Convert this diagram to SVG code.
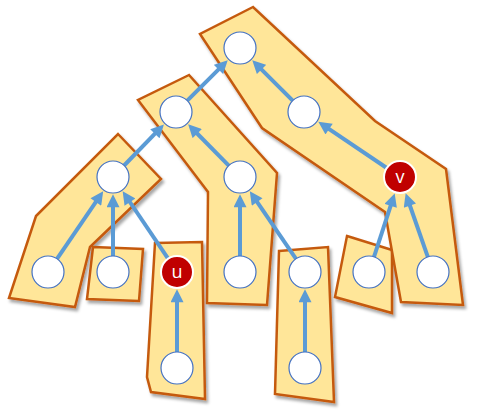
<svg xmlns="http://www.w3.org/2000/svg" width="481" height="417" viewBox="0 0 481 417">
<style>
.path{fill:#FFE699;stroke:#C55A11;stroke-width:2.5;stroke-linejoin:miter;filter:url(#sh)}
.n{fill:#FFFFFF;stroke:#4472C4;stroke-width:1.2}
.r{fill:#C00000;stroke:#FFFFFF;stroke-width:2}
.e{stroke:#5B9BD5;stroke-width:4;fill:none;marker-end:url(#ah)}
.t{fill:#FFFFFF;font-family:"Open Sans","Liberation Sans",Arial,sans-serif;font-size:18px;text-anchor:middle}
</style>
<defs>
<filter id="sh" x="-20%" y="-20%" width="140%" height="140%">
<feDropShadow dx="2" dy="3" stdDeviation="1.5" flood-color="#000000" flood-opacity="0.35"/>
</filter>
<marker id="ah" viewBox="0 0 12 12" markerUnits="userSpaceOnUse" markerWidth="14" markerHeight="13" refX="4" refY="6" orient="auto">
<path d="M0,0 L12,6 L0,12 z" fill="#5B9BD5"/>
</marker>
</defs>
<g id="paths">
<polygon id="p1" class="path" points="118,134 161,179 90,247 75,307 9,298 36,216"/>
<polygon id="p2" class="path" points="93,247 143,249 139,301 87,299"/>
<polygon id="p3" class="path" points="155,243 202,242 205,399 151,392 147,377"/>
<polygon id="p4" class="path" points="189,75 138,100 208,192 207,303 267,305 277,173"/>
<polygon id="p5" class="path" points="279,251 328,247 334,402 275,394"/>
<polygon id="p6" class="path" points="347,236 392,250 392,313 335,297"/>
<polygon id="p7" class="path" points="253,7 200,34 262,128 385,212 401,302 463,305 446,169 375,121"/>
</g>
<g id="connectors">
<line class="e" x1="177" y1="352" x2="177" y2="298"/>
<line class="e" x1="305" y1="352" x2="305" y2="298"/>
<line class="e" x1="57" y1="258.8" x2="98.3" y2="198.4"/>
<line class="e" x1="113" y1="256" x2="113" y2="203"/>
<line class="e" x1="168.1" y1="258.7" x2="127.5" y2="198.5"/>
<line class="e" x1="124.1" y1="165.5" x2="157.9" y2="130.7"/>
<line class="e" x1="187.3" y1="100.7" x2="221.6" y2="66.4"/>
<line class="e" x1="240" y1="256" x2="240" y2="203"/>
<line class="e" x1="228.8" y1="165.6" x2="194.2" y2="130.5"/>
<line class="e" x1="296" y1="258.8" x2="254.7" y2="198.4"/>
<line class="e" x1="292.7" y1="100.7" x2="258.4" y2="66.4"/>
<line class="e" x1="386.8" y1="168" x2="325.5" y2="126.6"/>
<line class="e" x1="374" y1="256.8" x2="392" y2="201.7"/>
<line class="e" x1="427.8" y1="256.9" x2="408.5" y2="201.5"/>
</g>
<g id="n_root"><circle class="n" cx="240" cy="48" r="16"/></g>
<g id="n_b"><circle class="n" cx="176" cy="112" r="16"/></g>
<g id="n_e"><circle class="n" cx="304" cy="112" r="16"/></g>
<g id="n_c"><circle class="n" cx="113" cy="177" r="16"/></g>
<g id="n_d"><circle class="n" cx="240" cy="177" r="16"/></g>
<g id="n_v"><circle class="r" cx="400" cy="177" r="16"/><text class="t" x="400" y="183">v</text></g>
<g id="n_l1"><circle class="n" cx="48" cy="272" r="16"/></g>
<g id="n_l2"><circle class="n" cx="113" cy="272" r="16"/></g>
<g id="n_u"><circle class="r" cx="177" cy="272" r="16"/><text class="t" x="177" y="278">u</text></g>
<g id="n_l4"><circle class="n" cx="240" cy="272" r="16"/></g>
<g id="n_l5"><circle class="n" cx="305" cy="272" r="16"/></g>
<g id="n_l6"><circle class="n" cx="369" cy="272" r="16"/></g>
<g id="n_l7"><circle class="n" cx="433" cy="272" r="16"/></g>
<g id="n_b1"><circle class="n" cx="177" cy="368" r="16"/></g>
<g id="n_b2"><circle class="n" cx="305" cy="368" r="16"/></g>
</svg>
